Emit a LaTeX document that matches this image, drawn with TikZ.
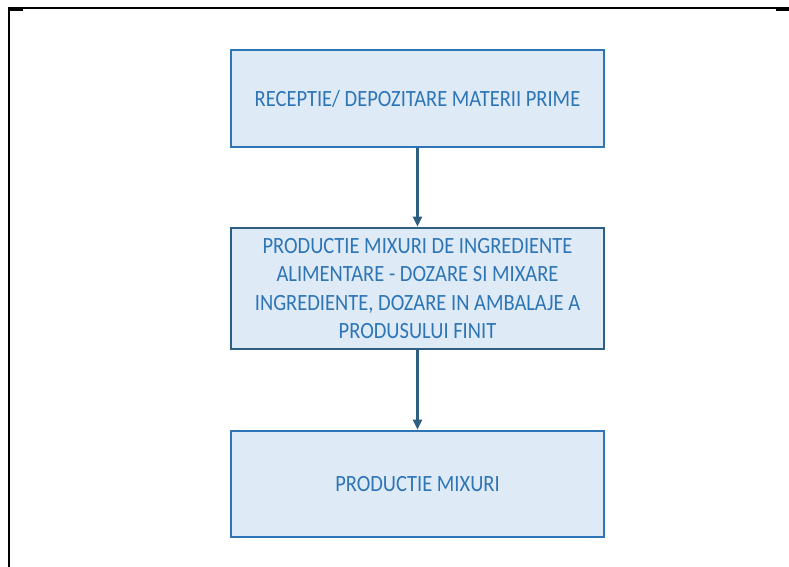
\documentclass[tikz,border=0pt]{standalone}
\usepackage{fontspec}
\usepackage{tikz}
\usepackage{xcolor}
\usetikzlibrary{arrows.meta}

\newfontfamily\boxfont[FakeStretch=0.88]{Carlito}
\definecolor{boxfill}{HTML}{DEEBF7}
\definecolor{boxline}{HTML}{2E75B6}
\definecolor{boxdark}{HTML}{2F5F80}
\definecolor{boxtext}{HTML}{2E75B6}

\begin{document}
\begin{tikzpicture}[x=1bp,y=-1bp,
    stepbox/.style={draw=boxline, line width=2.6bp, fill=boxfill, text=boxtext,
        minimum width=373bp, align=center, inner sep=0pt,
        font=\boxfont\fontsize{23.3bp}{28.5bp}\selectfont},
    flow/.style={draw=boxdark, line width=2.2bp, -{Triangle[length=10bp,width=9bp]}}]
    \useasboundingbox (0,0) rectangle (789,567);

            % draw frame
            \draw[black, line width=1.2bp] (8,8) -- (789,8);
            \draw[black, line width=2.4bp] (9.2,8) -- (9.2,567);
            \draw[black, line width=2bp] (8,9.6) -- (23,9.6);
            \draw[black, line width=2bp] (776,9.6) -- (789,9.6);

            % draw boxes
            \node[stepbox, minimum height=97bp] (receptie) at (417.5,98.5)
                {RECEPTIE/ DEPOZITARE MATERII PRIME};
            \node[stepbox, draw=boxdark, minimum height=121bp] (dozare) at (417.5,288.5)
                {PRODUCTIE MIXURI DE INGREDIENTE\\ALIMENTARE - DOZARE SI MIXARE\\INGREDIENTE, DOZARE IN AMBALAJE A\\PRODUSULUI FINIT};
            \node[stepbox, minimum height=106bp] (mixuri) at (417.5,484)
                {PRODUCTIE MIXURI};

            % draw arrows
            \draw[flow] (receptie) -- (dozare);
            \draw[flow] (dozare) -- (mixuri);
        \end{tikzpicture}
\end{document}
